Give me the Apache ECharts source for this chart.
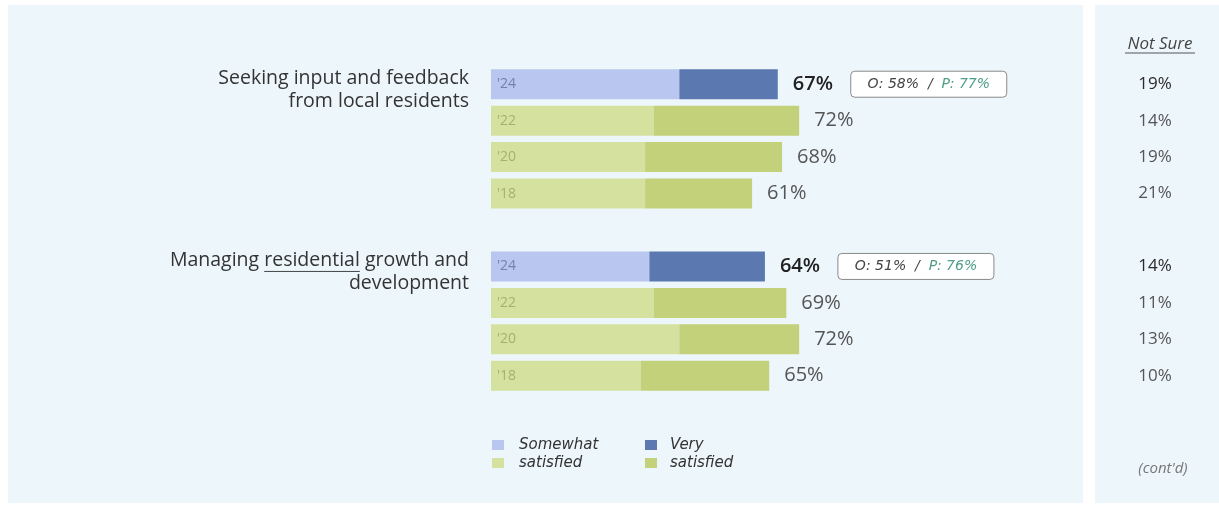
<!DOCTYPE html>
<html>
<head>
<meta charset="utf-8">
<script src="https://cdn.jsdelivr.net/npm/echarts@6/dist/echarts.min.js"></script>
<style>
    html, body { margin: 0; padding: 0; background: #ffffff; }
    #main { width: 1219px; height: 507px; }
</style>
</head>
<body>
<div id="main"></div>
<script>
// 数据
var rows = ['24a', '22a', '20a', '18a', 'gap', '24b', '22b', '20b', '18b'];
var yearLabels = ["'24", "'22", "'20", "'18", '', "'24", "'22", "'20", "'18"];
var somewhat = [44, 38, 36, 36, '-', 37, 38, 44, 35];
var very = [23, 34, 32, 25, '-', 27, 31, 28, 30];
var totals = [67, 72, 68, 61, '-', 64, 69, 72, 65];
var notSure = [19, 14, 19, 21, '', 14, 11, 13, 10];
var groupLine1 = ['Seeking input and feedback', 'Managing residential growth and'];
var groupLine2 = ['from local residents', 'development'];
var underlined = ['', 'residential'];
var oVals = [58, 51];
var pVals = [77, 76];
var currentRows = [0, 5];

var font = '"Open Sans", "Noto Sans", sans-serif';
var hand = '"DejaVu Sans", sans-serif';

// 颜色
var lightBlue = '#b9c6ef';
var darkBlue = '#5b78b1';
var lightGreen = '#d5e19f';
var darkGreen = '#c2d17a';
var panel = '#ecf6fb';

function isCurrent(i) {
    return currentRows.indexOf(i) >= 0;
}

var chart = echarts.init(document.getElementById('main'));

var baseGraphic = [
    // 背景面板
    { type: 'rect', z: -10, shape: { x: 8, y: 5, width: 1075, height: 498 }, style: { fill: panel } },
    { type: 'rect', z: -10, shape: { x: 1095, y: 5, width: 124, height: 498 }, style: { fill: panel } },
    // Not Sure 标题
    { type: 'text', x: 1160, y: 44, style: { text: 'Not Sure', font: 'italic 17px ' + font, fill: '#444', align: 'center', verticalAlign: 'middle' } },
    { type: 'line', shape: { x1: 1125, y1: 53, x2: 1195, y2: 53 }, style: { stroke: '#555', lineWidth: 1.2 } },
    { type: 'text', x: 1163, y: 469, style: { text: "(cont'd)", font: 'italic 15px ' + font, fill: '#777', align: 'center', verticalAlign: 'middle' } },
    // 图例
    { type: 'rect', shape: { x: 492, y: 440, width: 12, height: 10 }, style: { fill: lightBlue } },
    { type: 'rect', shape: { x: 492, y: 458, width: 12, height: 10 }, style: { fill: lightGreen } },
    { type: 'text', x: 519, y: 445, style: { text: 'Somewhat', font: 'italic 15px ' + hand, fill: '#333', verticalAlign: 'middle' } },
    { type: 'text', x: 519, y: 463, style: { text: 'satisfied', font: 'italic 15px ' + hand, fill: '#333', verticalAlign: 'middle' } },
    { type: 'rect', shape: { x: 645, y: 440, width: 12, height: 10 }, style: { fill: darkBlue } },
    { type: 'rect', shape: { x: 645, y: 458, width: 12, height: 10 }, style: { fill: darkGreen } },
    { type: 'text', x: 670, y: 445, style: { text: 'Very', font: 'italic 15px ' + hand, fill: '#333', verticalAlign: 'middle' } },
    { type: 'text', x: 670, y: 463, style: { text: 'satisfied', font: 'italic 15px ' + hand, fill: '#333', verticalAlign: 'middle' } }
];

option = {
    animation: false,
    backgroundColor: '#ffffff',
    graphic: baseGraphic,
    grid: {
        left: 491,
        width: 428,
        top: 66,
        height: 328
    },
    xAxis: {
        type: 'value',
        min: 0,
        max: 100,
        show: false
    },
    yAxis: [
        {
            type: 'category',
            data: rows,
            inverse: true,
            axisLine: { show: false },
            axisTick: { show: false },
            axisLabel: { show: false }
        },
        {
            type: 'category',
            data: rows,
            inverse: true,
            position: 'right',
            axisLine: { show: false },
            axisTick: { show: false },
            axisLabel: {
                margin: 236,
                align: 'center',
                fontFamily: font,
                fontSize: 17,
                formatter: function (v, i) {
                    if (notSure[i] === '') return '';
                    return isCurrent(i) ? '{b|' + notSure[i] + '%}' : '{n|' + notSure[i] + '%}';
                },
                rich: {
                    b: { fontFamily: font, fontSize: 17, color: '#2a2a2a', fontWeight: 500 },
                    n: { fontFamily: font, fontSize: 17, color: '#555' }
                }
            }
        }
    ],
    series: [
        {
            name: 'Somewhat satisfied',
            type: 'bar',
            stack: 'sat',
            barWidth: 30,
            data: somewhat,
            itemStyle: {
                color: function (p) {
                    return isCurrent(p.dataIndex) ? lightBlue : lightGreen;
                }
            },
            label: {
                show: true,
                position: 'insideLeft',
                distance: 6,
                fontFamily: font,
                fontSize: 14,
                formatter: function (p) {
                    return isCurrent(p.dataIndex) ? '{b|' + yearLabels[p.dataIndex] + '}' : '{g|' + yearLabels[p.dataIndex] + '}';
                },
                rich: {
                    b: { fontFamily: font, fontSize: 14, color: '#7282aa' },
                    g: { fontFamily: font, fontSize: 14, color: '#a6b16c' }
                }
            }
        },
        {
            name: 'Very satisfied',
            type: 'bar',
            stack: 'sat',
            barWidth: 30,
            data: very,
            itemStyle: {
                color: function (p) {
                    return isCurrent(p.dataIndex) ? darkBlue : darkGreen;
                }
            },
            label: {
                show: true,
                position: 'right',
                distance: 15,
                formatter: function (p) {
                    var t = totals[p.dataIndex] + '%';
                    return isCurrent(p.dataIndex) ? '{b|' + t + '}' : '{n|' + t + '}';
                },
                rich: {
                    b: { fontFamily: font, fontSize: 20, color: '#222', fontWeight: 600 },
                    n: { fontFamily: font, fontSize: 20, color: '#555' }
                }
            }
        }
    ]
};

chart.setOption(option);

// 分组标题、O / P 标注框
var ctx = document.createElement('canvas').getContext('2d');
var labelFont = '19.5px ' + font;
ctx.font = labelFont;
var extra = [];
currentRows.forEach(function (r, k) {
    var c = chart.convertToPixel({ gridIndex: 0 }, [0, r]);
    var right = c[0] - 22;
    var y1 = c[1] - 6;
    extra.push({ type: 'text', x: right, y: y1, style: { text: groupLine1[k], font: labelFont, fill: '#333', align: 'right', verticalAlign: 'middle' } });
    extra.push({ type: 'text', x: right, y: y1 + 23, style: { text: groupLine2[k], font: labelFont, fill: '#333', align: 'right', verticalAlign: 'middle' } });
    if (underlined[k]) {
        var full = ctx.measureText(groupLine1[k]).width;
        var pos = groupLine1[k].indexOf(underlined[k]);
        var before = ctx.measureText(groupLine1[k].slice(0, pos)).width;
        var w = ctx.measureText(underlined[k]).width;
        var sx = right - full + before;
        extra.push({ type: 'line', shape: { x1: sx, y1: y1 + 11, x2: sx + w, y2: y1 + 11 }, style: { stroke: '#444', lineWidth: 1 } });
    }

    var pt = chart.convertToPixel({ gridIndex: 0 }, [totals[r], r]);
    var x = pt[0] + 73;
    var y = pt[1];
    extra.push({ type: 'rect', shape: { x: x, y: y - 13, width: 156, height: 26, r: 4 }, style: { fill: '#ffffff', stroke: '#8a8a8a', lineWidth: 1 } });
    extra.push({
        type: 'text', x: x + 78, y: y,
        style: {
            text: '{o|O: ' + oVals[k] + '%  /  }{p|P: ' + pVals[k] + '%}',
            align: 'center', verticalAlign: 'middle',
            rich: {
                o: { fontFamily: hand, fontStyle: 'italic', fontSize: 14, fill: '#444' },
                p: { fontFamily: hand, fontStyle: 'italic', fontSize: 14, fill: '#4f9e8a' }
            }
        }
    });
});
chart.setOption({ graphic: baseGraphic.concat(extra) });
</script>
</body>
</html>
